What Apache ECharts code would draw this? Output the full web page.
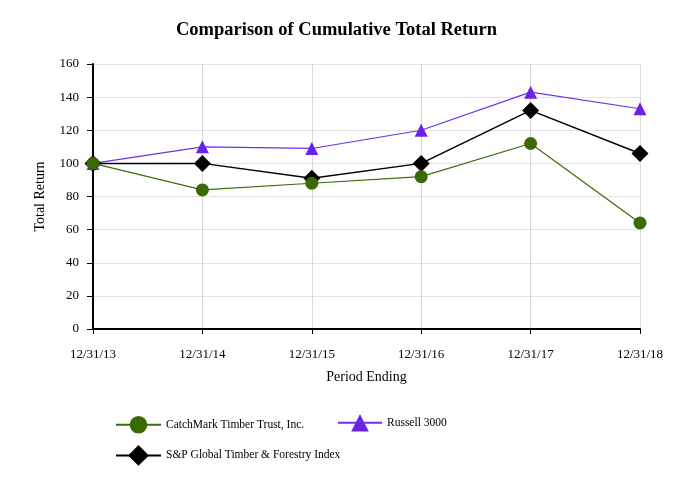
<!DOCTYPE html>
<html><head><meta charset="utf-8">
<script src="https://cdn.jsdelivr.net/npm/echarts@6/dist/echarts.min.js"></script>
<style>html,body{margin:0;padding:0;background:#fff}#c{width:673px;height:489px}</style>
</head><body><div id="c"></div>
<script>
const categories = ['12/31/13','12/31/14','12/31/15','12/31/16','12/31/17','12/31/18'];
const catchmark = [100, 84, 88, 92, 112, 64];
const russell = [100, 110, 109, 120, 143, 133];
const spTimber = [100, 100, 91, 100, 132, 106];
const yTicks = [0, 20, 40, 60, 80, 100, 120, 140, 160];

const font = 'Liberation Serif';
const chart = echarts.init(document.getElementById('c'), null, {renderer: 'canvas'});
const legendText = {fontFamily: font, fontSize: 11.5, color: '#000'};
chart.setOption({
  animation: false,
  backgroundColor: '#fff',
  title: {text: 'Comparison of Cumulative Total Return', left: 'center', top: 16,
    textStyle: {fontFamily: font, fontSize: 18.5, fontWeight: 'bold', color: '#000'}},
  legend: [
    {data: ['CatchMark Timber Trust, Inc.'], left: 110, top: 411, itemWidth: 45, itemHeight: 22, textStyle: legendText},
    {data: ['Russell 3000'], left: 332, top: 409, itemWidth: 44, itemHeight: 22, textStyle: legendText},
    {data: ['S&P Global Timber & Forestry Index'], left: 110, top: 440, itemWidth: 45, itemHeight: 26, textStyle: legendText}
  ],
  grid: {left: 93, right: 33, top: 64, bottom: 160},
  xAxis: {
    type: 'category', data: categories, boundaryGap: false,
    name: 'Period Ending', nameLocation: 'middle', nameGap: 41,
    nameTextStyle: {fontFamily: font, fontSize: 14, color: '#000'},
    axisLine: {lineStyle: {color: '#000', width: 2}},
    axisTick: {show: true, alignWithLabel: true, length: 5, lineStyle: {color: '#000'}},
    axisLabel: {fontFamily: font, fontSize: 13, color: '#000', margin: 19},
    splitLine: {show: true, lineStyle: {color: '#d9d9d9', width: 1}}
  },
  yAxis: {
    type: 'value', min: yTicks[0], max: yTicks[yTicks.length - 1], interval: 20,
    name: 'Total Return', nameLocation: 'middle', nameGap: 46,
    nameTextStyle: {fontFamily: font, fontSize: 14, color: '#000'},
    axisLine: {show: true, lineStyle: {color: '#000', width: 2}},
    axisTick: {show: true, length: 6, lineStyle: {color: '#000'}},
    axisLabel: {fontFamily: font, fontSize: 13, color: '#000', margin: 14},
    splitLine: {show: true, lineStyle: {color: '#e3e3e3', width: 1}}
  },
  series: [
    {name: 'Russell 3000', type: 'line', data: russell, z: 2,
      symbol: 'triangle', symbolSize: 13,
      lineStyle: {color: '#7030e8', width: 1.2}, itemStyle: {color: '#6a22e6'}},
    {name: 'S&P Global Timber & Forestry Index', type: 'line', data: spTimber, z: 3,
      symbol: 'diamond', symbolSize: 17,
      lineStyle: {color: '#000', width: 1.5}, itemStyle: {color: '#000'}},
    {name: 'CatchMark Timber Trust, Inc.', type: 'line', data: catchmark, z: 4,
      symbol: 'circle', symbolSize: 13,
      lineStyle: {color: '#3d6b0a', width: 1.2}, itemStyle: {color: '#3b6a04'}}
  ]
});
</script></body></html>
